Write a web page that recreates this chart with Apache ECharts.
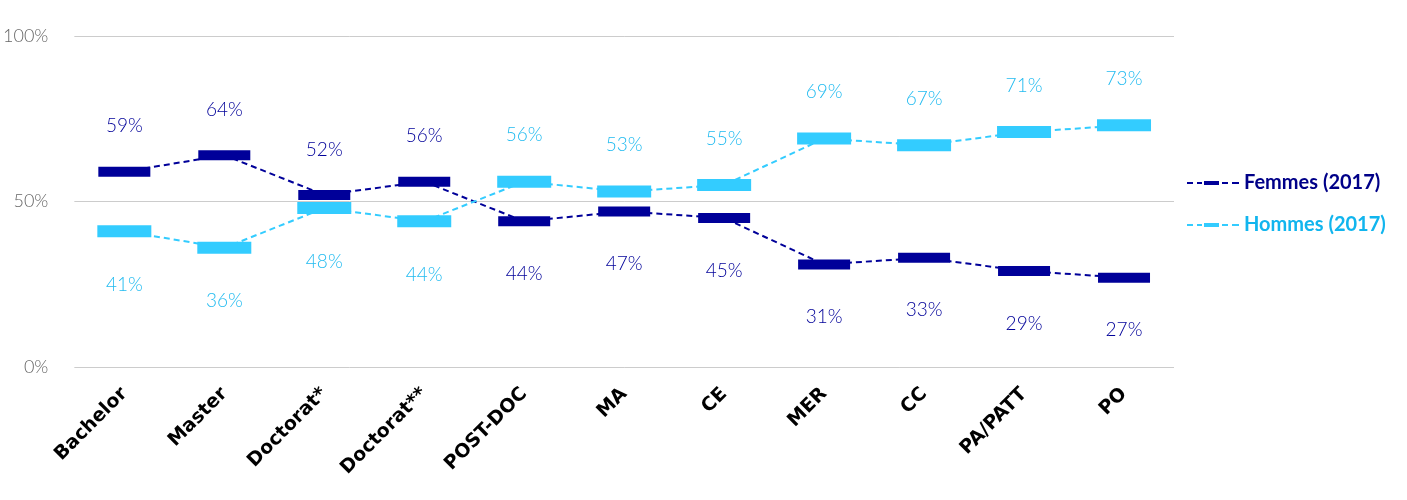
<!DOCTYPE html>
<html><head><meta charset="utf-8">
<script src="https://cdn.jsdelivr.net/npm/echarts@6/dist/echarts.min.js"></script>
<style>html,body{margin:0;padding:0;background:#fff}#c{width:1407px;height:500px}</style>
</head><body><div id="c"></div>
<script>
const categories = ['Bachelor','Master','Doctorat*','Doctorat**','POST-DOC','MA','CE','MER','CC','PA/PATT','PO'];
const femmes = [59,64,52,56,44,47,45,31,33,29,27];
const hommes = [41,36,48,44,56,53,55,69,67,71,73];
const yTicks = [0,50,100];

const FEM = '#000099', HOM = '#33CCFF';
const ICON = 'path://M0,5h6v2h-6z M10,5h5v2h-5z M17,4h15v4h-15z M35,5h6v2h-6z M45,5h7v2h-7z';
function items(vals, other){
  return vals.map((v,i)=>{
    const up = v >= other[i];
    return {value:v, label:{position: up?'top':'bottom', distance: up?31:38}};
  });
}
const chart = echarts.init(document.getElementById('c'));
chart.setOption({
  animation:false,
  grid:{left:74, width:1100, top:36, height:331},
  legend:{
    orient:'vertical', left:1182, top:168, itemGap:22, itemWidth:52, itemHeight:5, itemGap:22,
    data:[{name:'Femmes (2017)', icon:ICON, textStyle:{color:'#000088'}},{name:'Hommes (2017)', icon:ICON, textStyle:{color:'#11B5EE'}}],
    textStyle:{fontFamily:'Lato', fontWeight:'bold', fontSize:20}
  },
  xAxis:{type:'category', data:categories, boundaryGap:true,
    axisLine:{show:false}, axisTick:{show:false},
    axisLabel:{rotate:45, color:'#000', fontFamily:'DejaVu Sans', fontWeight:'bold', fontSize:19, margin:24, interval:0}},
  yAxis:{type:'value', min:0, max:100, interval:50,
    axisLabel:{formatter:v=>yTicks.includes(v)?v+'%':'', color:'#666', fontFamily:'Lato', fontWeight:300, fontSize:18, margin:26},
    splitLine:{lineStyle:{color:'#cccccc', width:1}}},
  series:[
    {name:'Femmes (2017)', type:'line', data:items(femmes,hommes), symbol:'rect', symbolSize:[52,10],
     itemStyle:{color:FEM}, lineStyle:{type:[6,4], width:2, color:FEM},
     label:{show:true, formatter:'{c}%', color:FEM, fontFamily:'Lato', fontWeight:300, fontSize:19}},
    {name:'Hommes (2017)', type:'line', data:items(hommes,femmes), symbol:'rect', symbolSize:[54,12],
     itemStyle:{color:HOM}, lineStyle:{type:[6,4], width:2, color:HOM},
     label:{show:true, formatter:'{c}%', color:'#22BBF0', fontFamily:'Lato', fontWeight:300, fontSize:19}}
  ]
});
</script></body></html>
